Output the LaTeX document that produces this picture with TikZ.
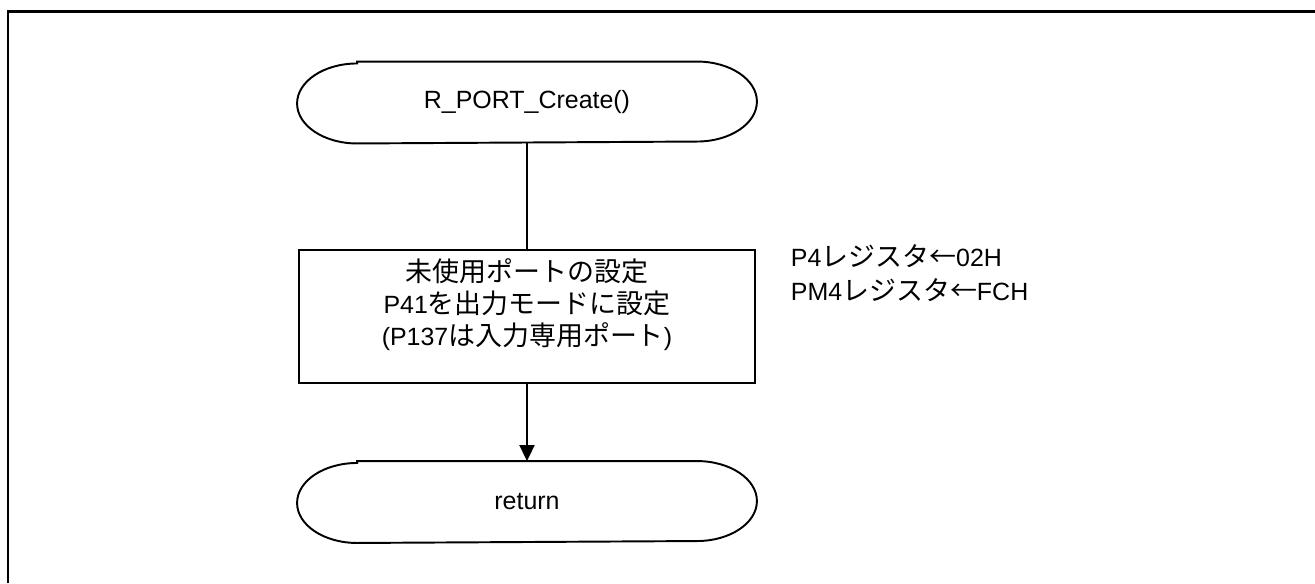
\documentclass[tikz,border=0pt]{standalone}
\usepackage{fontspec}
\setmainfont{Liberation Sans}
\newfontfamily\jp[Scale=1.08]{Noto Sans CJK JP}
\usetikzlibrary{positioning, calc, arrows.meta}

\begin{document}
\begin{tikzpicture}[x=0.02cm, y=0.02cm, >={Triangle[length=0.32cm,width=0.3cm]},
  term/.style={minimum width=9.16cm, minimum height=1.6cm, inner sep=0pt},
  proc/.style={draw, minimum width=9.14cm, minimum height=2.66cm, inner sep=0pt},
  note/.style={anchor=base west, inner sep=0pt},
  font=\fontsize{14.2}{18.2}\selectfont, line width=1.1pt]
  \useasboundingbox (0,0) rectangle (1315,-583);
  % frame
  \draw[line width=1.7pt] (8,-583) -- (8,-11) -- (1315,-11);

  \node[term] (start) at (527,-102.5) {R\_PORT\_Create()};
  \node[proc] (init) at (527,-316.5) {};
  \node[align=center, inner sep=0pt] (initText) at (527,-305)
    {{\jp 未使用ポートの設定}\\P41{\jp を出力モードに設定}\\(P137{\jp は入力専用ポート})};
  \node[term] (ret) at (527,-502) {return};

  \node[note] (p4) at (790,-266) {P4{\jp レジスタ←}02H};
  \node[note] (pm4) at (790,-300) {PM4{\jp レジスタ←}FCH};

  \foreach \t in {start, ret}
    \draw ([xshift=1.2cm]\t.north west) -- ([xshift=-1.2cm]\t.north east)
      arc[start angle=90, end angle=-90, x radius=1.2cm, y radius=0.8cm]
      -- ([xshift=1.2cm]\t.south west)
      arc[start angle=270, end angle=90, x radius=1.2cm, y radius=0.8cm] -- cycle;

  \draw (start) -- (init);
  \draw[->] (init) -- (ret);
\end{tikzpicture}
\end{document}
